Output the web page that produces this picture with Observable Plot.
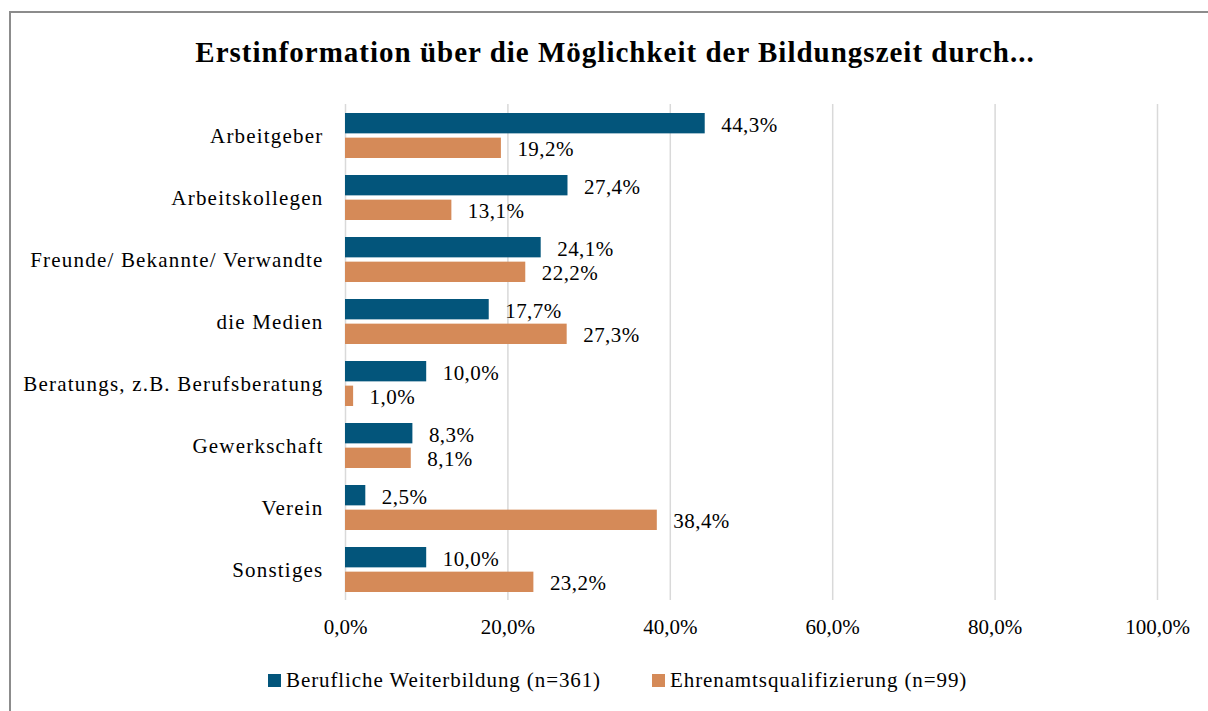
<!DOCTYPE html>
<html>
<head>
<meta charset="utf-8">
<script src="https://cdn.jsdelivr.net/npm/d3@7"></script>
<script src="https://cdn.jsdelivr.net/npm/@observablehq/plot@0.6"></script>
<style>
  html, body { margin: 0; padding: 0; background: #fff; }
  #wrap { position: relative; width: 1208px; height: 711px; overflow: hidden; font-family: "Liberation Serif", "DejaVu Serif", serif; color: #000; }
  #border { position: absolute; left: 9px; top: 11px; width: 1300px; height: 800px; border: 2px solid #8c8c8c; box-sizing: border-box; }
  #title { position: absolute; left: 9px; width: 1212px; top: 38px; line-height: 29px; text-align: center; font-weight: bold; font-size: 29px; letter-spacing: 1px; white-space: nowrap; }
  #chart { position: absolute; left: 0; top: 80px; }
  #legend { position: absolute; top: 668px; left: 0; width: 1208px; font-size: 21px; letter-spacing: 0.9px; }
  .item { position: absolute; display: flex; align-items: center; white-space: nowrap; }
  .sw { width: 13px; height: 13px; margin-right: 5px; display: inline-block; }
</style>
</head>
<body>
<div id="wrap">
  <div id="border"></div>
  <div id="title"></div>
  <div id="chart"></div>
  <div id="legend"></div>
</div>
<script>
const titleText = "Erstinformation über die Möglichkeit der Bildungszeit durch...";
const categories = [
  "Arbeitgeber",
  "Arbeitskollegen",
  "Freunde/ Bekannte/ Verwandte",
  "die Medien",
  "Beratungs, z.B. Berufsberatung",
  "Gewerkschaft",
  "Verein",
  "Sonstiges"
];
const seriesNames = ["Berufliche Weiterbildung (n=361)", "Ehrenamtsqualifizierung (n=99)"];
const seriesColors = ["#03557b", "#d58a58"];
const berufliche = [44.3, 27.4, 24.1, 17.7, 10.0, 8.3, 2.5, 10.0];
const ehrenamt = [19.2, 13.1, 22.2, 27.3, 1.0, 8.1, 38.4, 23.2];
const xTicks = [0, 20, 40, 60, 80, 100];

const fmt = v => v.toFixed(1).replace(".", ",") + "%";

const dataA = categories.map((c, i) => ({cat: c, value: berufliche[i]}));
const dataB = categories.map((c, i) => ({cat: c, value: ehrenamt[i]}));

document.getElementById("title").textContent = titleText;

const H = 565, marginTop = 24, marginBottom = 45;
const bandStep = (H - marginTop - marginBottom) / categories.length;
const bandwidth = bandStep * 0.72;
const barH = 20;
const inset = bandwidth - barH;
const off = bandwidth / 2 - barH / 2;

const chart = Plot.plot({
  width: 1208,
  height: H,
  marginLeft: 345,
  marginRight: 51,
  marginTop,
  marginBottom,
  style: {fontFamily: "Liberation Serif, DejaVu Serif, serif", fontSize: "21px", color: "#000", background: "transparent"},
  x: {domain: [0, 100], ticks: xTicks, tickFormat: fmt, tickSize: 0, tickPadding: 19, label: null},
  y: {domain: categories, paddingInner: 0.28, paddingOuter: 0.14, tickSize: 0, tickPadding: 22, label: null},
  marks: [
    Plot.gridX(xTicks, {stroke: "#d9d9d9", strokeOpacity: 1, strokeWidth: 1.5}),
    Plot.barX(dataA, {x: "value", y: "cat", fill: seriesColors[0], insetBottom: inset}),
    Plot.barX(dataB, {x: "value", y: "cat", fill: seriesColors[1], insetTop: inset}),
    Plot.text(dataA, {x: "value", y: "cat", text: d => fmt(d.value), textAnchor: "start", dx: 16, dy: -off + 2, fill: "#000"}),
    Plot.text(dataB, {x: "value", y: "cat", text: d => fmt(d.value), textAnchor: "start", dx: 16, dy: off + 1, fill: "#000"})
  ]
});
document.getElementById("chart").appendChild(chart);

// wider letterforms to approximate the reference serif
d3.select(chart).selectAll('g[aria-label="text"] text').style("letter-spacing", "0.45px");
d3.select(chart).selectAll('g[aria-label="y-axis tick label"] text').style("letter-spacing", "1.2px");

const legend = document.getElementById("legend");
const legendX = [268, 652];
seriesNames.forEach((name, i) => {
  const it = document.createElement("div");
  it.className = "item";
  it.style.left = legendX[i] + "px";
  const sw = document.createElement("span");
  sw.className = "sw";
  sw.style.background = seriesColors[i];
  const tx = document.createElement("span");
  tx.textContent = name;
  it.appendChild(sw);
  it.appendChild(tx);
  legend.appendChild(it);
});
</script>
</body>
</html>
